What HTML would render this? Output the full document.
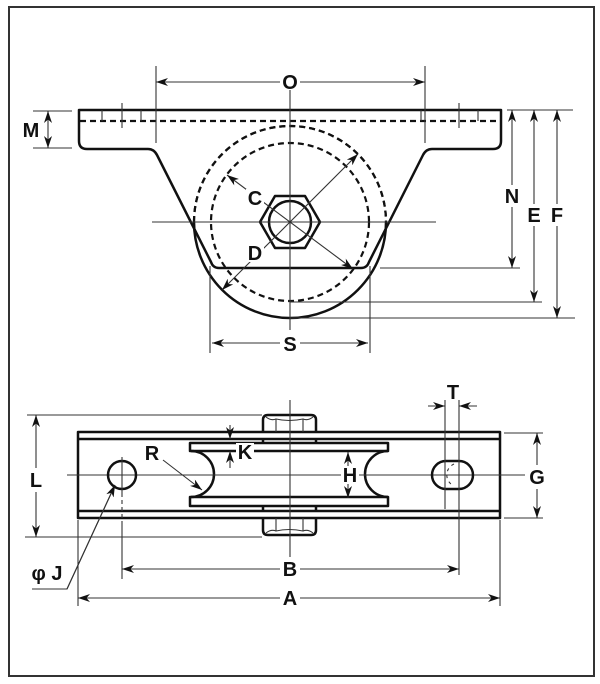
<!DOCTYPE html>
<html><head><meta charset="utf-8"><style>
html,body{margin:0;padding:0;background:#fff;}
svg{display:block;}
text{font-family:"Liberation Sans",Arial,sans-serif;font-weight:bold;font-size:20px;fill:#111;text-anchor:middle;}
.o{stroke:#111;stroke-width:2.5;fill:none;stroke-linejoin:round;}
.t{stroke:#333;stroke-width:1.1;fill:none;}
.d{stroke:#111;stroke-width:2.2;fill:none;stroke-dasharray:6 4;}
</style></head><body>
<svg width="600" height="684" viewBox="0 0 600 684" xmlns="http://www.w3.org/2000/svg">
<defs>
<marker id="a" viewBox="0 0 12 8" refX="12" refY="4" markerWidth="12" markerHeight="8" orient="auto-start-reverse" markerUnits="userSpaceOnUse"><path d="M0,0 L12,4 L0,8 L3.5,4 Z" fill="#111"/></marker>
</defs>
<rect x="0" y="0" width="600" height="684" fill="#fff"/>
<rect x="9" y="7" width="585" height="669" fill="none" stroke="#333" stroke-width="2"/>

<!-- ===== TOP VIEW ===== -->
<!-- circles -->
<circle cx="290" cy="222" r="79" class="d"/>
<path d="M194,222 A96,96 0 0 1 386,222" class="d"/>
<path d="M194,222 A96,96 0 0 0 386,222" class="o"/>
<!-- bracket -->
<path d="M79,110 H501 V141 Q501,149 493,149 H432 Q426,149 423,155 L369,262 Q367,268 361,268 H219 Q213,268 211,262 L157,155 Q154,149 148,149 H87 Q79,149 79,141 Z" class="o" fill="#fff"/>
<path d="M194,222 A96,96 0 0 1 386,222" class="d"/>
<line x1="80" y1="121" x2="500" y2="121" class="d" stroke-dasharray="6 3"/>
<!-- ticks -->
<g class="t" stroke-width="1.2">
<line x1="102" y1="110" x2="102" y2="121"/><line x1="122" y1="103" x2="122" y2="128"/><line x1="141" y1="110" x2="141" y2="121"/>
<line x1="421" y1="110" x2="421" y2="121"/><line x1="459" y1="103" x2="459" y2="128"/><line x1="478" y1="110" x2="478" y2="121"/>
</g>
<!-- hex & bolt -->
<polygon points="320,222 305,196 275,196 260,222 275,248 305,248" class="o" fill="#fff"/>
<circle cx="290" cy="222" r="21" class="o"/>
<!-- center lines -->
<line x1="290" y1="90" x2="290" y2="330" class="t"/>
<line x1="152" y1="222" x2="436" y2="222" class="t"/>
<!-- O -->
<line x1="156" y1="66" x2="156" y2="143" class="t"/>
<line x1="425" y1="66" x2="425" y2="143" class="t"/>
<line x1="280" y1="82" x2="156" y2="82" class="t" marker-end="url(#a)"/>
<line x1="300" y1="82" x2="425" y2="82" class="t" marker-end="url(#a)"/>
<text x="290" y="89">O</text>
<!-- C & D -->
<line x1="227" y1="175" x2="353" y2="269" class="t" marker-start="url(#a)" marker-end="url(#a)"/>
<line x1="222" y1="290" x2="358" y2="154" class="t" marker-start="url(#a)" marker-end="url(#a)"/>
<rect x="246" y="189" width="18" height="18" fill="#fff"/>
<text x="255" y="205">C</text>
<rect x="246" y="244" width="18" height="18" fill="#fff"/>
<text x="255" y="260">D</text>
<!-- S -->
<line x1="210" y1="266" x2="210" y2="353" class="t"/>
<line x1="370" y1="266" x2="370" y2="353" class="t"/>
<line x1="280" y1="343" x2="212" y2="343" class="t" marker-end="url(#a)"/>
<line x1="300" y1="343" x2="368" y2="343" class="t" marker-end="url(#a)"/>
<text x="290" y="351">S</text>
<!-- M -->
<line x1="33" y1="111" x2="72" y2="111" class="t"/>
<line x1="33" y1="148" x2="72" y2="148" class="t"/>
<line x1="48" y1="129" x2="48" y2="111" class="t" marker-end="url(#a)"/>
<line x1="48" y1="129" x2="48" y2="148" class="t" marker-end="url(#a)"/>
<text x="31" y="137">M</text>
<!-- N E F -->
<line x1="507" y1="110" x2="573" y2="110" class="t"/>
<line x1="380" y1="268" x2="520" y2="268" class="t"/>
<line x1="290" y1="302" x2="542" y2="302" class="t"/>
<line x1="290" y1="318" x2="575" y2="318" class="t"/>
<line x1="512" y1="185" x2="512" y2="110" class="t" marker-end="url(#a)"/>
<line x1="512" y1="207" x2="512" y2="268" class="t" marker-end="url(#a)"/>
<line x1="534" y1="204" x2="534" y2="110" class="t" marker-end="url(#a)"/>
<line x1="534" y1="226" x2="534" y2="302" class="t" marker-end="url(#a)"/>
<line x1="557" y1="204" x2="557" y2="110" class="t" marker-end="url(#a)"/>
<line x1="557" y1="226" x2="557" y2="318" class="t" marker-end="url(#a)"/>
<text x="512" y="203">N</text>
<text x="534" y="222">E</text>
<text x="557" y="222">F</text>

<!-- ===== BOTTOM VIEW ===== -->
<!-- L extension -->
<line x1="27" y1="415" x2="262" y2="415" class="t"/>
<line x1="25" y1="537" x2="262" y2="537" class="t"/>
<line x1="36" y1="468" x2="36" y2="415" class="t" marker-end="url(#a)"/>
<line x1="36" y1="492" x2="36" y2="537" class="t" marker-end="url(#a)"/>
<text x="36" y="487">L</text>
<!-- plate -->
<rect x="78" y="432" width="422" height="86" class="o"/>
<line x1="78" y1="439" x2="500" y2="439" class="o"/>
<line x1="78" y1="511" x2="500" y2="511" class="o"/>
<!-- wheel -->
<rect x="190" y="443" width="198" height="8" class="o"/>
<rect x="190" y="497" width="198" height="9" class="o"/>
<path d="M191,451 A23,23 0 0 1 191,497" class="o"/>
<path d="M388,451 A23,23 0 0 0 388,497" class="o"/>
<!-- washers -->
<g class="o" stroke-width="2">
<line x1="263" y1="439" x2="263" y2="443"/><line x1="316" y1="439" x2="316" y2="443"/>
<line x1="263" y1="506" x2="263" y2="511"/><line x1="316" y1="506" x2="316" y2="511"/>
</g>
<!-- nuts -->
<path d="M263,432 V420 Q263,415 268,415 H311 Q316,415 316,420 V432" class="o"/>
<path d="M263,518 V530 Q263,535 268,535 H311 Q316,535 316,530 V518" class="o"/>
<g class="t" stroke-width="1.3">
<line x1="276" y1="419" x2="276" y2="432"/><line x1="303" y1="419" x2="303" y2="432"/>
<path d="M266,417 Q271,421 276,419 Q289,422 303,419 Q308,421 313,417"/>
<line x1="276" y1="518" x2="276" y2="531"/><line x1="303" y1="518" x2="303" y2="531"/>
<path d="M266,533 Q271,529 276,531 Q289,528 303,531 Q308,529 313,533"/>
</g>
<!-- center lines -->
<line x1="290" y1="400" x2="290" y2="557" class="t"/>
<line x1="67" y1="475" x2="525" y2="475" class="t"/>
<!-- hole -->
<circle cx="122" cy="475" r="14" class="o" fill="none"/>
<line x1="122" y1="457" x2="122" y2="493" class="t"/>
<line x1="122" y1="493" x2="122" y2="522" class="t" stroke-dasharray="4 3"/>
<line x1="122" y1="522" x2="122" y2="579" class="t"/>
<!-- slot -->
<rect x="432" y="461" width="41" height="28" rx="14" ry="14" class="o"/>
<path d="M454,464 A12,12 0 0 0 454,486" class="t" stroke-width="1.8" stroke-dasharray="3 4"/>
<!-- T -->
<line x1="445" y1="400" x2="445" y2="509" class="t"/>
<line x1="459" y1="400" x2="459" y2="575" class="t"/>
<line x1="428" y1="406" x2="445" y2="406" class="t" marker-end="url(#a)"/>
<line x1="477" y1="406" x2="459" y2="406" class="t" marker-end="url(#a)"/>
<text x="453" y="399">T</text>
<!-- G -->
<line x1="504" y1="433" x2="543" y2="433" class="t"/>
<line x1="504" y1="518" x2="543" y2="518" class="t"/>
<line x1="537" y1="465" x2="537" y2="433" class="t" marker-end="url(#a)"/>
<line x1="537" y1="489" x2="537" y2="518" class="t" marker-end="url(#a)"/>
<text x="537" y="484">G</text>
<!-- H -->
<line x1="348" y1="466" x2="348" y2="452" class="t" marker-end="url(#a)"/>
<line x1="348" y1="484" x2="348" y2="498" class="t" marker-end="url(#a)"/>
<rect x="341" y="466" width="18" height="18" fill="#fff"/>
<text x="350" y="482">H</text>
<!-- K -->
<line x1="230" y1="425" x2="230" y2="439" class="t" marker-end="url(#a)"/>
<line x1="230" y1="468" x2="230" y2="451" class="t" marker-end="url(#a)"/>
<rect x="236" y="443" width="18" height="18" fill="#fff"/>
<text x="245" y="459">K</text>
<!-- R -->
<line x1="163" y1="460" x2="202" y2="490" class="t" marker-end="url(#a)"/>
<text x="152" y="460">R</text>
<!-- J -->
<polyline points="32,589 67,589 115,485" class="t"/>
<line x1="67" y1="589" x2="115" y2="485" class="t" marker-end="url(#a)"/>
<text x="47" y="580">φ J</text>
<!-- B -->
<line x1="280" y1="569" x2="122" y2="569" class="t" marker-end="url(#a)"/>
<line x1="300" y1="569" x2="459" y2="569" class="t" marker-end="url(#a)"/>
<text x="290" y="576">B</text>
<!-- A -->
<line x1="78" y1="520" x2="78" y2="606" class="t"/>
<line x1="500" y1="520" x2="500" y2="606" class="t"/>
<line x1="280" y1="598" x2="78" y2="598" class="t" marker-end="url(#a)"/>
<line x1="300" y1="598" x2="500" y2="598" class="t" marker-end="url(#a)"/>
<text x="290" y="605">A</text>
</svg>
</body></html>
